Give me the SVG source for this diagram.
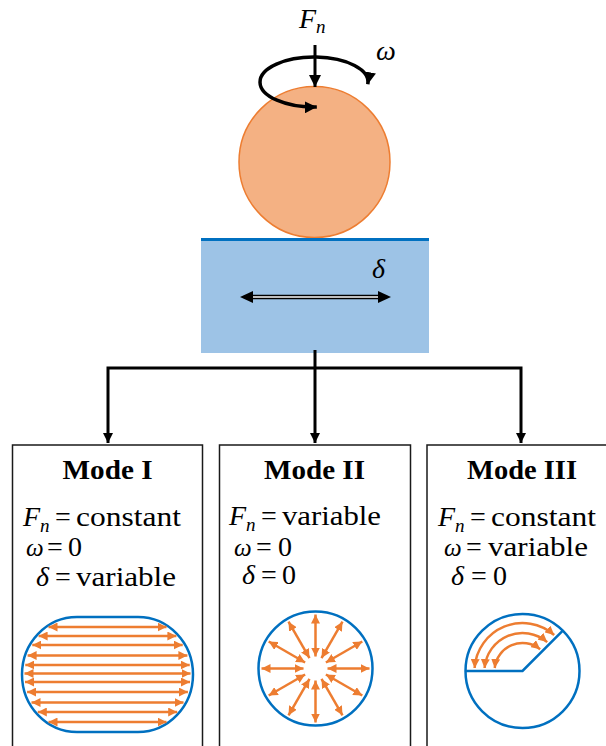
<svg xmlns="http://www.w3.org/2000/svg" width="606" height="746" viewBox="0 0 606 746">
<style>
.m{font-family:"Liberation Serif","Times New Roman",serif;font-size:28px;fill:#000}
.i{font-style:italic}
.w{font-style:italic;font-size:25px}
.s{font-size:19px;font-style:italic}
.t{font-family:"Liberation Serif","Times New Roman",serif;font-size:28px;font-weight:bold;text-anchor:middle;fill:#000}
.box{fill:#fff;stroke:#1a1a1a;stroke-width:1.5}
.conn{fill:none;stroke:#000;stroke-width:3}
.oa{fill:none;stroke:#ED7D31;stroke-width:2.5}
.blu{fill:none;stroke:#0070C0;stroke-width:2.5}
</style>
<defs>
<marker id="ka" markerUnits="userSpaceOnUse" markerWidth="10" markerHeight="10" refX="10" refY="5" orient="auto-start-reverse"><path d="M0,0 L10,5 L0,10 z" fill="#000"/></marker>
<marker id="kb" markerUnits="userSpaceOnUse" markerWidth="12" markerHeight="12" refX="12" refY="6" orient="auto-start-reverse"><path d="M0,0 L12,6 L0,12 z" fill="#000"/></marker>
<marker id="oh" markerUnits="userSpaceOnUse" markerWidth="9" markerHeight="9" refX="9" refY="4.5" orient="auto-start-reverse"><path d="M0,0 L9,4.5 L0,9 z" fill="#ED7D31"/></marker>
</defs>

<g id="ball">
<circle cx="314.5" cy="162" r="75.5" fill="#F4B183" stroke="#ED7D31" stroke-width="1.5"/>
</g>

<g id="rotation">
<path d="M367.8 84.2 A54 25 0 1 0 316.8 107" fill="none" stroke="#000" stroke-width="3.5" marker-start="url(#kb)" marker-end="url(#kb)"/>
<text class="m i" x="376" y="60" font-size="24">ω</text>
</g>

<g id="force">
<line x1="315" y1="45" x2="315" y2="87" stroke="#000" stroke-width="3" marker-end="url(#kb)"/>
<text class="m" x="299" y="28" font-size="21"><tspan class="i">F</tspan><tspan class="s" x="316" y="33" font-size="15">n</tspan></text>
</g>

<g id="plate">
<rect x="201" y="240" width="228" height="113" fill="#9DC3E6"/>
<line x1="201" y1="239.5" x2="429" y2="239.5" stroke="#0070C0" stroke-width="3"/>
<line x1="250" y1="297" x2="381" y2="297" stroke="#000" stroke-width="4.5"/>
<line x1="250" y1="297" x2="381" y2="297" stroke="#fff" stroke-width="1.3"/>
<polygon points="240,297 253,291 253,303" fill="#000"/>
<polygon points="391,297 378,291 378,303" fill="#000"/>
<text class="m i" x="372" y="278" font-size="25">δ</text>
</g>

<g id="connectors">
<path class="conn" d="M315 350 L315 443" marker-end="url(#ka)"/>
<path class="conn" d="M108 443 L108 368 L521 368 L521 443" marker-start="url(#ka)" marker-end="url(#ka)"/>
</g>

<g id="mode1">
<rect class="box" x="12.5" y="445" width="190" height="320"/>
<text class="t" x="107.5" y="479" textLength="90" lengthAdjust="spacingAndGlyphs">Mode I</text>
<text class="m" y="526"><tspan class="i" x="23">F</tspan><tspan class="s" x="40" y="532">n</tspan><tspan x="55" y="526">=</tspan></text>
<text class="m" x="76" y="526" textLength="105" lengthAdjust="spacingAndGlyphs">constant</text>
<text class="m" y="556"><tspan class="w" x="26">ω</tspan><tspan x="47">=</tspan><tspan x="68">0</tspan></text>
<text class="m" y="586"><tspan class="i" x="36">δ</tspan><tspan x="55">=</tspan></text>
<text class="m" x="76" y="586" textLength="100" lengthAdjust="spacingAndGlyphs">variable</text>
<rect class="blu" x="22" y="617" width="171" height="115" rx="55" ry="57.5"/>
<g class="oa">
<line x1="48.5" y1="627" x2="166.5" y2="627" marker-start="url(#oh)" marker-end="url(#oh)"/>
<line x1="38.6" y1="636" x2="176.4" y2="636" marker-start="url(#oh)" marker-end="url(#oh)"/>
<line x1="32.3" y1="645" x2="182.7" y2="645" marker-start="url(#oh)" marker-end="url(#oh)"/>
<line x1="27.6" y1="655.5" x2="187.4" y2="655.5" marker-start="url(#oh)" marker-end="url(#oh)"/>
<line x1="25.3" y1="665" x2="189.7" y2="665" marker-start="url(#oh)" marker-end="url(#oh)"/>
<line x1="24.5" y1="673.5" x2="190.5" y2="673.5" marker-start="url(#oh)" marker-end="url(#oh)"/>
<line x1="25" y1="682" x2="190" y2="682" marker-start="url(#oh)" marker-end="url(#oh)"/>
<line x1="27.1" y1="692" x2="187.9" y2="692" marker-start="url(#oh)" marker-end="url(#oh)"/>
<line x1="31.5" y1="702.5" x2="183.5" y2="702.5" marker-start="url(#oh)" marker-end="url(#oh)"/>
<line x1="37.8" y1="712" x2="177.2" y2="712" marker-start="url(#oh)" marker-end="url(#oh)"/>
<line x1="48.5" y1="722" x2="166.5" y2="722" marker-start="url(#oh)" marker-end="url(#oh)"/>
</g>
</g>

<g id="mode2">
<rect class="box" x="219.5" y="445" width="191" height="320"/>
<text class="t" x="314.5" y="479" textLength="101" lengthAdjust="spacingAndGlyphs">Mode II</text>
<text class="m" y="525"><tspan class="i" x="229">F</tspan><tspan class="s" x="246" y="531">n</tspan><tspan x="261" y="525">=</tspan></text>
<text class="m" x="282" y="525" textLength="99" lengthAdjust="spacingAndGlyphs">variable</text>
<text class="m" y="556"><tspan class="w" x="234">ω</tspan><tspan x="256">=</tspan><tspan x="278">0</tspan></text>
<text class="m" y="584"><tspan class="i" x="242">δ</tspan><tspan x="261">=</tspan><tspan x="282">0</tspan></text>
<circle class="blu" cx="315.5" cy="668.5" r="57"/>
<g class="oa">
<line x1="327.5" y1="668.5" x2="369.5" y2="668.5" marker-start="url(#oh)" marker-end="url(#oh)"/>
<line x1="325.9" y1="662.5" x2="362.3" y2="641.5" marker-start="url(#oh)" marker-end="url(#oh)"/>
<line x1="321.5" y1="658.1" x2="342.5" y2="621.7" marker-start="url(#oh)" marker-end="url(#oh)"/>
<line x1="315.5" y1="656.5" x2="315.5" y2="614.5" marker-start="url(#oh)" marker-end="url(#oh)"/>
<line x1="309.5" y1="658.1" x2="288.5" y2="621.7" marker-start="url(#oh)" marker-end="url(#oh)"/>
<line x1="305.1" y1="662.5" x2="268.7" y2="641.5" marker-start="url(#oh)" marker-end="url(#oh)"/>
<line x1="303.5" y1="668.5" x2="261.5" y2="668.5" marker-start="url(#oh)" marker-end="url(#oh)"/>
<line x1="305.1" y1="674.5" x2="268.7" y2="695.5" marker-start="url(#oh)" marker-end="url(#oh)"/>
<line x1="309.5" y1="678.9" x2="288.5" y2="715.3" marker-start="url(#oh)" marker-end="url(#oh)"/>
<line x1="315.5" y1="680.5" x2="315.5" y2="722.5" marker-start="url(#oh)" marker-end="url(#oh)"/>
<line x1="321.5" y1="678.9" x2="342.5" y2="715.3" marker-start="url(#oh)" marker-end="url(#oh)"/>
<line x1="325.9" y1="674.5" x2="362.3" y2="695.5" marker-start="url(#oh)" marker-end="url(#oh)"/>
</g>
</g>

<g id="mode3">
<rect class="box" x="427" y="445" width="200" height="320"/>
<text class="t" x="522" y="479" textLength="110" lengthAdjust="spacingAndGlyphs">Mode III</text>
<text class="m" y="526"><tspan class="i" x="438">F</tspan><tspan class="s" x="455" y="532">n</tspan><tspan x="470" y="526">=</tspan></text>
<text class="m" x="491" y="526" textLength="105" lengthAdjust="spacingAndGlyphs">constant</text>
<text class="m" y="556"><tspan class="w" x="444">ω</tspan><tspan x="466">=</tspan></text>
<text class="m" x="488" y="556" textLength="100" lengthAdjust="spacingAndGlyphs">variable</text>
<text class="m" y="585"><tspan class="i" x="451">δ</tspan><tspan x="471">=</tspan><tspan x="493">0</tspan></text>
<circle class="blu" cx="522.5" cy="671" r="57"/>
<path class="blu" d="M465.5 671 L522.5 671 L562.8 630.7"/>
<g class="oa">
<path d="M554.2 635 A48 48 0 0 0 474.6 668" marker-start="url(#oh)" marker-end="url(#oh)"/>
<path d="M547.2 642.1 A38 38 0 0 0 484.6 668" marker-start="url(#oh)" marker-end="url(#oh)"/>
<path d="M540.1 649.2 A28 28 0 0 0 494.7 668" marker-start="url(#oh)" marker-end="url(#oh)"/>
</g>
</g>
</svg>
